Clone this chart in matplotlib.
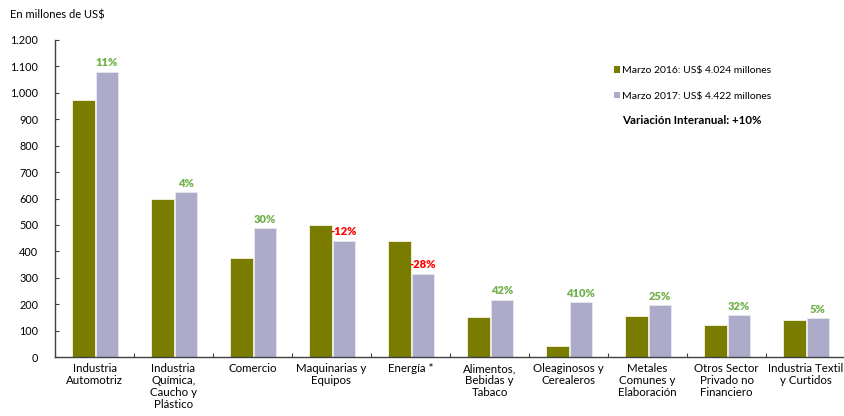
import matplotlib
matplotlib.use("Agg")
import matplotlib.pyplot as plt
from matplotlib.patches import Patch
from matplotlib.ticker import FuncFormatter
import numpy as np

plt.rcParams['font.family'] = ['Lato', 'DejaVu Sans']

categories = [
    "Industria\nAutomotriz",
    "Industria\nQuímica,\nCaucho y\nPlástico",
    "Comercio",
    "Maquinarias y\nEquipos",
    "Energía *",
    "Alimentos,\nBebidas y\nTabaco",
    "Oleaginosos y\nCerealeros",
    "Metales\nComunes y\nElaboración",
    "Otros Sector\nPrivado no\nFinanciero",
    "Industria Textil\ny Curtidos",
]
marzo_2016 = [973, 598, 376, 500, 438, 152, 40.5, 155, 120, 140]
marzo_2017 = [1079, 624, 488, 440, 315, 217, 207, 195, 158, 147]
variacion = ["11%", "4%", "30%", "-12%", "-28%", "42%", "410%", "25%", "32%", "5%"]

legend_2016 = "Marzo 2016: US$ 4.024 millones"
legend_2017 = "Marzo 2017: US$ 4.422 millones"
nota_total = "Variación Interanual: +10%"
y_title = "En millones de US$"

c16 = "#7a7c00"
c17 = "#acacca"
pos_col = "#6fb24a"
neg_col = "#ff0000"

fig = plt.figure(figsize=(8.45, 4.16), dpi=100)
ax = fig.add_axes([55 / 845, 59 / 416, 790 / 845, 317 / 416])

x = np.arange(len(categories))
w = 0.285
ax.bar(x - 0.138, marzo_2016, width=w, color=c16, edgecolor="#f4f4e0", linewidth=0.6)
ax.bar(x + 0.157, marzo_2017, width=w, color=c17, edgecolor="#e8e8f2", linewidth=0.6)

for xi, v, lab in zip(x, marzo_2017, variacion):
    col = neg_col if lab.startswith("-") else pos_col
    ax.annotate(lab, (xi + 0.157, v), xytext=(0, 2.5), textcoords="offset points",
                ha="center", va="bottom", fontsize=8, fontweight="heavy", color=col)

ax.set_xlim(-0.5, len(categories) - 0.5)
ax.set_ylim(0, 1200)
ax.set_yticks(np.arange(0, 1201, 100))
ax.yaxis.set_major_formatter(FuncFormatter(lambda v, p: f"{int(v):,}".replace(",", ".")))
ax.set_xticks(np.arange(-0.5, len(categories), 1.0))
ax.set_xticklabels([])
ax.set_xticks(x, minor=True)
ax.set_xticklabels(categories, minor=True, fontsize=8.3, linespacing=1.1, va="top")
ax.tick_params(axis="x", which="minor", length=0, pad=4.5)
ax.tick_params(axis="x", which="major", direction="in", length=3, color="#404040")
ax.tick_params(axis="y", direction="in", length=3, color="#404040", labelsize=7.8, pad=12)
for lbl in ax.get_yticklabels():
    lbl.set_horizontalalignment("right")

for s in ("top", "right"):
    ax.spines[s].set_visible(False)
for s in ("left", "bottom"):
    ax.spines[s].set_color("#404040")
    ax.spines[s].set_linewidth(1.0)

handles = [Patch(facecolor=c16, edgecolor="none"), Patch(facecolor=c17, edgecolor="none")]
fig.legend(handles, [legend_2016, legend_2017], loc="upper left",
           bbox_to_anchor=(614 / 845, 1 - 66 / 416), frameon=False, fontsize=7.5,
           handlelength=0.6, handleheight=0.6, handletextpad=0.2, labelspacing=1.6,
           borderpad=0, borderaxespad=0)
fig.text(622 / 845, 1 - 121 / 416, nota_total, fontsize=8.3, fontweight="bold",
         va="center", ha="left")
fig.text(10 / 845, 1 - 15 / 416, y_title, fontsize=8, va="center", ha="left")

fig.savefig("out.png", dpi=100)
